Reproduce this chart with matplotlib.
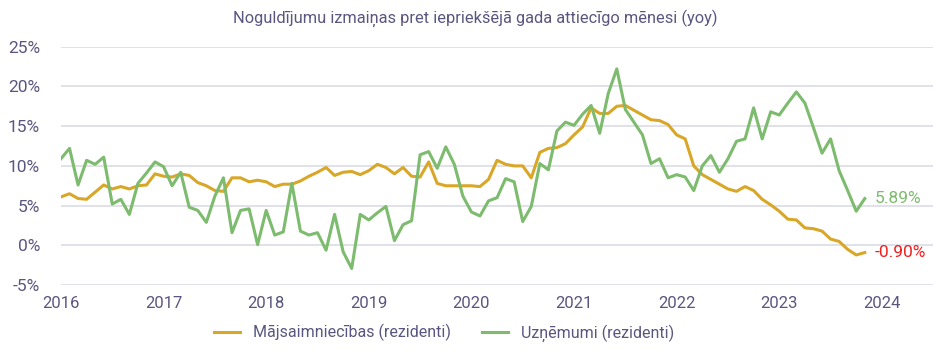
import numpy as np
import matplotlib.pyplot as plt

# monthly yoy changes, Jan 2016 .. Nov 2023
households = [6.1, 6.5, 5.9, 5.8, 6.7, 7.6, 7.1, 7.4, 7.1, 7.5, 7.6, 9.0,
              8.7, 8.6, 9.0, 8.8, 7.9, 7.5, 6.9, 6.8, 8.5, 8.5, 8.0, 8.2,
              8.0, 7.4, 7.7, 7.7, 8.1, 8.7, 9.2, 9.8, 8.8, 9.2, 9.3, 8.9,
              9.4, 10.2, 9.8, 9.0, 9.8, 8.7, 8.6, 10.5, 7.8, 7.5, 7.5, 7.5,
              7.5, 7.4, 8.3, 10.7, 10.2, 10.0, 10.0, 8.5, 11.7, 12.2, 12.3, 12.8,
              13.9, 14.9, 17.3, 16.6, 16.6, 17.5, 17.6, 17.0, 16.4, 15.8, 15.7, 15.2,
              13.9, 13.4, 10.0, 8.9, 8.3, 7.7, 7.1, 6.8, 7.4, 6.9, 5.8, 5.1,
              4.3, 3.3, 3.2, 2.2, 2.1, 1.8, 0.8, 0.5, -0.5, -1.2, -0.9]
companies = [10.9, 12.2, 7.6, 10.7, 10.2, 11.1, 5.2, 5.8, 3.9, 7.8, 9.1, 10.5,
             9.9, 7.5, 9.2, 4.8, 4.4, 2.9, 6.2, 8.5, 1.6, 4.4, 4.6, 0.1,
             4.4, 1.3, 1.7, 7.8, 1.8, 1.3, 1.6, -0.6, 3.9, -0.8, -2.9, 3.9,
             3.2, 4.1, 4.9, 0.6, 2.6, 3.1, 11.4, 11.8, 9.7, 12.4, 10.2, 6.2,
             4.2, 3.7, 5.6, 6.0, 8.4, 8.0, 3.0, 4.9, 10.3, 9.5, 14.4, 15.5,
             15.1, 16.5, 17.6, 14.1, 19.1, 22.2, 17.1, 15.5, 13.9, 10.3, 10.9, 8.5,
             8.9, 8.6, 6.9, 10.0, 11.3, 9.2, 10.9, 13.1, 13.4, 17.3, 13.4, 16.8,
             16.4, 17.9, 19.3, 17.9, 14.8, 11.6, 13.4, 9.4, 6.9, 4.3, 5.89]
years = list(range(2016, 2025))
yticks = [-5, 0, 5, 10, 15, 20, 25]

x = 2016 + np.arange(len(households)) / 12

plt.rcParams['font.family'] = ['Roboto', 'DejaVu Sans']
text_color = '#5a5680'
yellow = '#d9a728'
green = '#7dbb6e'

fig = plt.figure(figsize=(9.45, 3.56), dpi=100)
ax = fig.add_axes([0.0645, 0.199, 0.923, 0.670])

ax.plot(x, households, color=yellow, lw=2.2, label='Mājsaimniecības (rezidenti)')
ax.plot(x, companies, color=green, lw=2.2, label='Uzņēmumi (rezidenti)')

ax.text(x[-1] + 0.1, companies[-1], f'{companies[-1]:.2f}%', color=green,
        fontsize=12.5, va='center', ha='left')
ax.text(x[-1] + 0.1, households[-1], f'{households[-1]:.2f}%', color='#f01e1e',
        fontsize=12.5, va='center', ha='left')

ax.set_xlim(2016, 2024.5)
ax.set_ylim(-5, 25)
ax.set_xticks(years)
ax.set_xticklabels([str(y) for y in years])
ax.set_yticks(yticks)
ax.set_yticklabels([f'{v}%' for v in yticks])
ax.grid(axis='y', color='#dcdbe6', lw=1.2)
ax.set_axisbelow(True)
for s in ax.spines.values():
    s.set_visible(False)
ax.tick_params(length=0, colors=text_color, labelsize=12)
ax.tick_params(axis='y', pad=15, labelsize=12.5)
ax.tick_params(axis='x', pad=8)

fig.text(0.503, 0.95, 'Noguldījumu izmaiņas pret iepriekšējā gada attiecīgo mēnesi (yoy)',
         ha='center', va='center', color=text_color, fontsize=11.8)
fig.legend(loc='center', bbox_to_anchor=(0.47, 0.065), ncol=2, frameon=False,
           fontsize=11.5, labelcolor=text_color, handlelength=1.6, columnspacing=2.0)

fig.savefig('out.png', dpi=100)
